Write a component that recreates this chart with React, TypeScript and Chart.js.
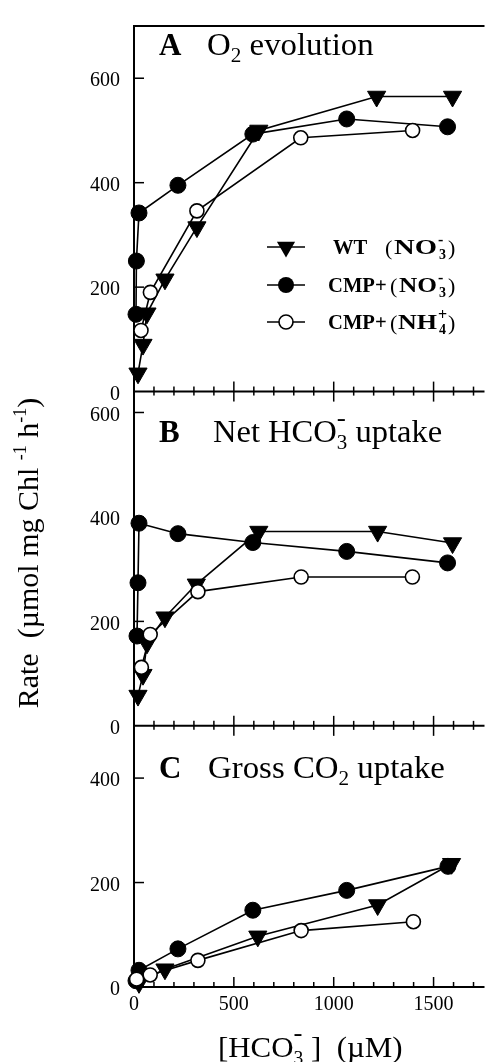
import React, { useEffect, useRef } from 'react';
import { Chart, registerables } from 'chart.js';

Chart.register(...registerables);

const SERIF = '"Liberation Serif", "Times New Roman", Times, serif';

// ---- axes ----
const X_MAX = 1755;
const X_STEP = 100;
const X_LABELED = [0, 500, 1000, 1500];
const Y_TICKS_A = [0, 200, 400, 600];
const Y_TICKS_B = [0, 200, 400, 600];
const Y_TICKS_C = [0, 200, 400];
const Y_MAX_A = 700;
const Y_MAX_B = 640;
const Y_MAX_C = 500;

// ---- Panel A: O2 evolution ----
const A_WT_X = [20, 45, 65, 155, 315, 625, 1215, 1595];
const A_WT_Y = [35, 90, 150, 215, 315, 500, 565, 565];
const A_CMP_X = [10, 12, 25, 220, 595, 1065, 1570];
const A_CMP_Y = [148, 250, 342, 395, 493, 522, 507];
const A_NH4_X = [35, 82, 315, 835, 1395];
const A_NH4_Y = [117, 190, 346, 486, 500];

// ---- Panel B: Net HCO3- uptake ----
const B_WT_X = [20, 45, 65, 155, 312, 625, 1220, 1595];
const B_WT_Y = [58, 98, 158, 208, 271, 372, 372, 350];
const B_CMP_X = [15, 20, 25, 220, 595, 1065, 1570];
const B_CMP_Y = [172, 274, 388, 368, 351, 334, 312];
const B_NH4_X = [37, 81, 320, 837, 1394];
const B_NH4_Y = [112, 175, 257, 285, 285];

// ---- Panel C: Gross CO2 uptake ----
const C_WT_X = [25, 155, 620, 1220, 1590];
const C_WT_Y = [8, 34, 97, 157, 236];
const C_CMP_X = [10, 25, 220, 595, 1065, 1572];
const C_CMP_Y = [12, 32, 73, 147, 185, 231];
const C_NH4_X = [13, 81, 320, 837, 1399];
const C_NH4_Y = [15, 23, 51, 108, 125];

const pts = (xs: number[], ys: number[]) => xs.map((x, i) => ({ x, y: ys[i] }));

const LINE_W = 1.6;
const TRI_R = 10.5;
const DOT_R = 8;
const OPEN_R = 7;

const wtStyle = {
  showLine: true,
  borderColor: '#000',
  borderWidth: LINE_W,
  pointStyle: 'triangle',
  pointRotation: 180,
  pointRadius: TRI_R,
  pointBackgroundColor: '#000',
  pointBorderColor: '#000',
  pointBorderWidth: 1,
  clip: false,
  order: 1,
};
const cmpStyle = {
  showLine: true,
  borderColor: '#000',
  borderWidth: LINE_W,
  pointStyle: 'circle',
  pointRadius: DOT_R,
  pointBackgroundColor: '#000',
  pointBorderColor: '#000',
  pointBorderWidth: 1,
  clip: false,
  order: 2,
};
const nh4Style = {
  showLine: true,
  borderColor: '#000',
  borderWidth: LINE_W,
  pointStyle: 'circle',
  pointRadius: OPEN_R,
  pointBackgroundColor: '#fff',
  pointBorderColor: '#000',
  pointBorderWidth: 1.6,
  clip: false,
  order: 0,
};

type Seg = { t: string; s: number; b?: boolean; dy?: number; keep?: boolean; f?: string };
const fontOf = (g: Seg) => `${g.b ? 'bold ' : ''}${g.s}px ${g.f || SERIF}`;

function richWidth(ctx: CanvasRenderingContext2D, segs: Seg[]) {
  let w = 0;
  for (const g of segs) {
    ctx.font = fontOf(g);
    if (!g.keep) w += ctx.measureText(g.t).width;
  }
  return w;
}

function drawRich(ctx: CanvasRenderingContext2D, x: number, y: number, segs: Seg[], sx = 1) {
  ctx.save();
  ctx.translate(x, y);
  ctx.scale(sx, 1);
  ctx.fillStyle = '#000';
  ctx.textAlign = 'left';
  ctx.textBaseline = 'alphabetic';
  let cx = 0;
  for (const g of segs) {
    ctx.font = fontOf(g);
    ctx.fillText(g.t, cx, g.dy || 0);
    if (!g.keep) cx += ctx.measureText(g.t).width;
  }
  ctx.restore();
}

function marker(ctx: CanvasRenderingContext2D, kind: string, x: number, y: number) {
  ctx.save();
  ctx.strokeStyle = '#000';
  ctx.fillStyle = '#000';
  ctx.lineWidth = LINE_W;
  ctx.beginPath();
  ctx.moveTo(x - 19, y);
  ctx.lineTo(x + 19, y);
  ctx.stroke();
  ctx.beginPath();
  if (kind === 'tri') {
    let rad = Math.PI;
    ctx.moveTo(x + Math.sin(rad) * TRI_R, y - Math.cos(rad) * TRI_R);
    rad += (2 * Math.PI) / 3;
    ctx.lineTo(x + Math.sin(rad) * TRI_R, y - Math.cos(rad) * TRI_R);
    rad += (2 * Math.PI) / 3;
    ctx.lineTo(x + Math.sin(rad) * TRI_R, y - Math.cos(rad) * TRI_R);
    ctx.closePath();
    ctx.fill();
  } else if (kind === 'dot') {
    ctx.arc(x, y, DOT_R, 0, Math.PI * 2);
    ctx.fill();
  } else {
    ctx.fillStyle = '#fff';
    ctx.lineWidth = 1.6;
    ctx.arc(x, y, OPEN_R, 0, Math.PI * 2);
    ctx.fill();
    ctx.stroke();
  }
  ctx.restore();
}

const deco = {
  id: 'deco',
  beforeDatasetsDraw(chart: any) {
    const ctx: CanvasRenderingContext2D = chart.ctx;
    const ca = chart.chartArea;
    const xs = chart.scales.x;
    const ys = [chart.scales.yA, chart.scales.yB, chart.scales.yC];
    const seg = (x1: number, y1: number, x2: number, y2: number) => {
      ctx.beginPath();
      ctx.moveTo(x1, y1);
      ctx.lineTo(x2, y2);
      ctx.stroke();
    };
    ctx.save();
    ctx.strokeStyle = '#000';
    ctx.lineWidth = 2;
    seg(ca.left, ca.top, ca.right, ca.top);
    seg(ca.left, ca.top - 1, ca.left, ca.bottom + 1);
    ys.forEach((s) => seg(ca.left, s.bottom, ca.right, s.bottom));
    ctx.lineWidth = 1.5;
    ys.forEach((s, i) => {
      const b = s.bottom;
      xs.ticks.forEach((t: any) => {
        if (t.value === 0) return;
        const px = xs.getPixelForValue(t.value);
        const major = t.value % 500 === 0;
        const up = major ? 10 : 5;
        const down = i < 2 ? (major ? 10 : 4) : 0;
        seg(px, b - up, px, b + down);
      });
      s.ticks.forEach((t: any) => {
        if (t.value === 0) return;
        const py = s.getPixelForValue(t.value);
        seg(ca.left, py, ca.left + 10, py);
      });
    });
    ctx.restore();
  },
  afterDraw(chart: any) {
    const ctx: CanvasRenderingContext2D = chart.ctx;
    const TSX = 1.06;
    // panel titles
    drawRich(ctx, 159, 55, [{ t: 'A', s: 31, b: true }]);
    drawRich(ctx, 207, 55, [
      { t: 'O', s: 31 },
      { t: '2', s: 20, dy: 7 },
      { t: ' evolution', s: 31 },
    ], TSX);
    drawRich(ctx, 159, 442, [{ t: 'B', s: 31, b: true }]);
    drawRich(ctx, 213, 442, [
      { t: 'Net HCO', s: 31 },
      { t: '-', s: 26, dy: -16, keep: true },
      { t: '3', s: 20, dy: 7 },
      { t: ' uptake', s: 31 },
    ], TSX * 0.99);
    drawRich(ctx, 159, 778, [{ t: 'C', s: 31, b: true }]);
    drawRich(ctx, 208, 778, [
      { t: 'Gross CO', s: 31 },
      { t: '2', s: 20, dy: 7 },
      { t: ' uptake', s: 31 },
    ], TSX);

    // legend
    const rows = [
      { kind: 'tri', y: 247, name: 'WT', nx: 333, px: 385, ix: 394, ion: 'NO', sup: '-', sub: '3' },
      { kind: 'dot', y: 285, name: 'CMP+', nx: 328, px: 390, ix: 399, ion: 'NO', sup: '-', sub: '3' },
      { kind: 'open', y: 322, name: 'CMP+', nx: 328, px: 390, ix: 398, ion: 'NH', sup: '+', sub: '4' },
    ];
    const SUBX = 438;
    const CLOSEX = 448;
    rows.forEach((r) => {
      marker(ctx, r.kind, 286, r.y);
      const base = r.y + 7;
      drawRich(ctx, r.nx, base, [{ t: r.name, s: 20, b: true }], 1.03);
      drawRich(ctx, r.px, base + 1, [{ t: '(', s: 22 }]);
      ctx.font = fontOf({ t: r.ion, s: 22, b: true });
      const iw = ctx.measureText(r.ion).width;
      drawRich(ctx, r.ix, base, [{ t: r.ion, s: 22, b: true }], (SUBX - 1 - r.ix) / iw);
      drawRich(ctx, SUBX, base - 9, [{ t: r.sup, s: 16, b: true }]);
      drawRich(ctx, SUBX + 1, base + 5, [{ t: r.sub, s: 14, b: true }]);
      drawRich(ctx, CLOSEX, base + 1, [{ t: ')', s: 22 }]);
    });

    // y title (rotated)
    const ySegs: Seg[] = [
      { t: 'Rate  (\u00B5mol mg Chl ', s: 30 },
      { t: '-1', s: 18, dy: -12 },
      { t: ' h', s: 30 },
      { t: '-1', s: 18, dy: -12 },
      { t: ')', s: 30 },
    ];
    ctx.save();
    ctx.translate(28, 553);
    ctx.rotate(-Math.PI / 2);
    const yw = richWidth(ctx, ySegs);
    drawRich(ctx, -yw / 2, 10, ySegs);
    ctx.restore();

    // x title
    drawRich(ctx, 218, 1057, [
      { t: '[HCO', s: 30 },
      { t: '-', s: 26, dy: -16, keep: true },
      { t: '3', s: 19, dy: 7 },
      { t: ' ]  (\u00B5M)', s: 30 },
    ], 1.03);
  },
};

const yScale = (max: number, ticks: number[], stackWeight: number, weight: number) => ({
  type: 'linear',
  position: 'left',
  stack: 'rate',
  stackWeight,
  weight,
  min: 0,
  max,
  grid: { display: false, drawTicks: false },
  border: { display: false },
  ticks: {
    padding: 14,
    labelOffset: 3,
    color: '#000',
    font: { family: SERIF, size: 20 },
  },
  afterBuildTicks: (s: any) => {
    s.ticks = ticks.map((v) => ({ value: v }));
  },
  afterFit: (s: any) => {
    s.width = 134;
  },
});

export default function App() {
  const ref = useRef<HTMLCanvasElement>(null);
  useEffect(() => {
    const chart = new Chart(ref.current as HTMLCanvasElement, {
      type: 'scatter',
      data: {
        datasets: [
          { label: 'WT (NO3-) A', data: pts(A_WT_X, A_WT_Y), yAxisID: 'yA', ...wtStyle },
          { label: 'CMP+ (NO3-) A', data: pts(A_CMP_X, A_CMP_Y), yAxisID: 'yA', ...cmpStyle },
          { label: 'CMP+ (NH4+) A', data: pts(A_NH4_X, A_NH4_Y), yAxisID: 'yA', ...nh4Style },
          { label: 'WT (NO3-) B', data: pts(B_WT_X, B_WT_Y), yAxisID: 'yB', ...wtStyle },
          { label: 'CMP+ (NO3-) B', data: pts(B_CMP_X, B_CMP_Y), yAxisID: 'yB', ...cmpStyle },
          { label: 'CMP+ (NH4+) B', data: pts(B_NH4_X, B_NH4_Y), yAxisID: 'yB', ...nh4Style },
          { label: 'WT (NO3-) C', data: pts(C_WT_X, C_WT_Y), yAxisID: 'yC', ...wtStyle },
          { label: 'CMP+ (NO3-) C', data: pts(C_CMP_X, C_CMP_Y), yAxisID: 'yC', ...cmpStyle },
          { label: 'CMP+ (NH4+) C', data: pts(C_NH4_X, C_NH4_Y), yAxisID: 'yC', ...nh4Style },
        ] as any,
      },
      options: {
        animation: false,
        responsive: false,
        devicePixelRatio: 1,
        layout: { padding: { top: 14, left: 0, right: 0, bottom: 0 } },
        plugins: { legend: { display: false }, tooltip: { enabled: false } },
        scales: {
          x: {
            type: 'linear',
            position: 'bottom',
            min: 0,
            max: X_MAX,
            grid: { display: false, drawTicks: false },
            border: { display: false },
            ticks: {
              stepSize: X_STEP,
              includeBounds: false,
              autoSkip: false,
              maxRotation: 0,
              minRotation: 0,
              padding: 6,
              color: '#000',
              font: { family: SERIF, size: 20 },
              callback: (v: any) => (X_LABELED.includes(Number(v)) ? String(v) : ''),
            },
            afterFit: (s: any) => {
              s.height = 75;
            },
          },
          yC: yScale(Y_MAX_C, Y_TICKS_C, Y_MAX_C, 1),
          yB: yScale(Y_MAX_B, Y_TICKS_B, Y_MAX_B, 2),
          yA: yScale(Y_MAX_A, Y_TICKS_A, Y_MAX_A, 3),
        } as any,
      },
      plugins: [deco],
    });
    return () => chart.destroy();
  }, []);
  return (
    <div style={{ position: 'absolute', left: 0, top: 0, width: 496, height: 1062, background: '#fff' }}>
      <canvas ref={ref} width={496} height={1062} style={{ display: 'block', width: 496, height: 1062 }} />
    </div>
  );
}
